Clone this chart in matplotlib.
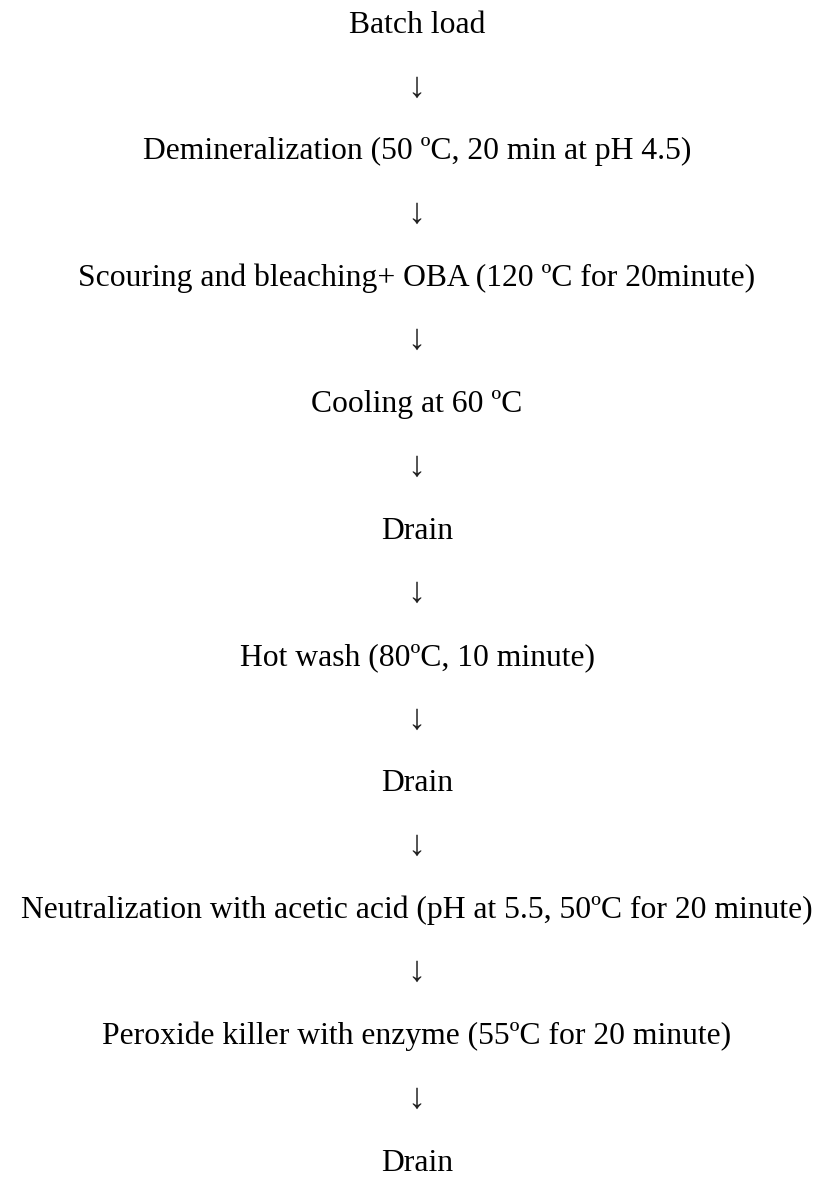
import matplotlib
matplotlib.use("Agg")
import matplotlib.pyplot as plt

# process steps, top to bottom
steps = [
    "Batch load",
    "Demineralization (50 ºC, 20 min at pH 4.5)",
    "Scouring and bleaching+ OBA (120 ºC for 20minute)",
    "Cooling at 60 ºC",
    "Drain",
    "Hot wash (80ºC, 10 minute)",
    "Drain",
    "Neutralization with acetic acid (pH at 5.5, 50ºC for 20 minute)",
    "Peroxide killer with enzyme (55ºC for 20 minute)",
    "Drain",
]

plt.rcParams['font.family'] = ['Liberation Serif', 'DejaVu Serif']

fig = plt.figure(figsize=(8.21, 11.81), dpi=100)
ax = fig.add_axes([0, 0, 1, 1])
ax.set_xlim(0, 821)
ax.set_ylim(1181, 0)
ax.axis("off")

cx = 417
base0 = 33
step = 126.4

for i, s in enumerate(steps):
    y = base0 + i * step
    ax.text(cx, y, s, ha="center", va="baseline", fontsize=22.8)
    if i < len(steps) - 1:
        ax.text(cx - 1, y + 55, "↓", ha="center", va="center", fontsize=26,
                color="#222222")

fig.savefig("out.png", dpi=100)
